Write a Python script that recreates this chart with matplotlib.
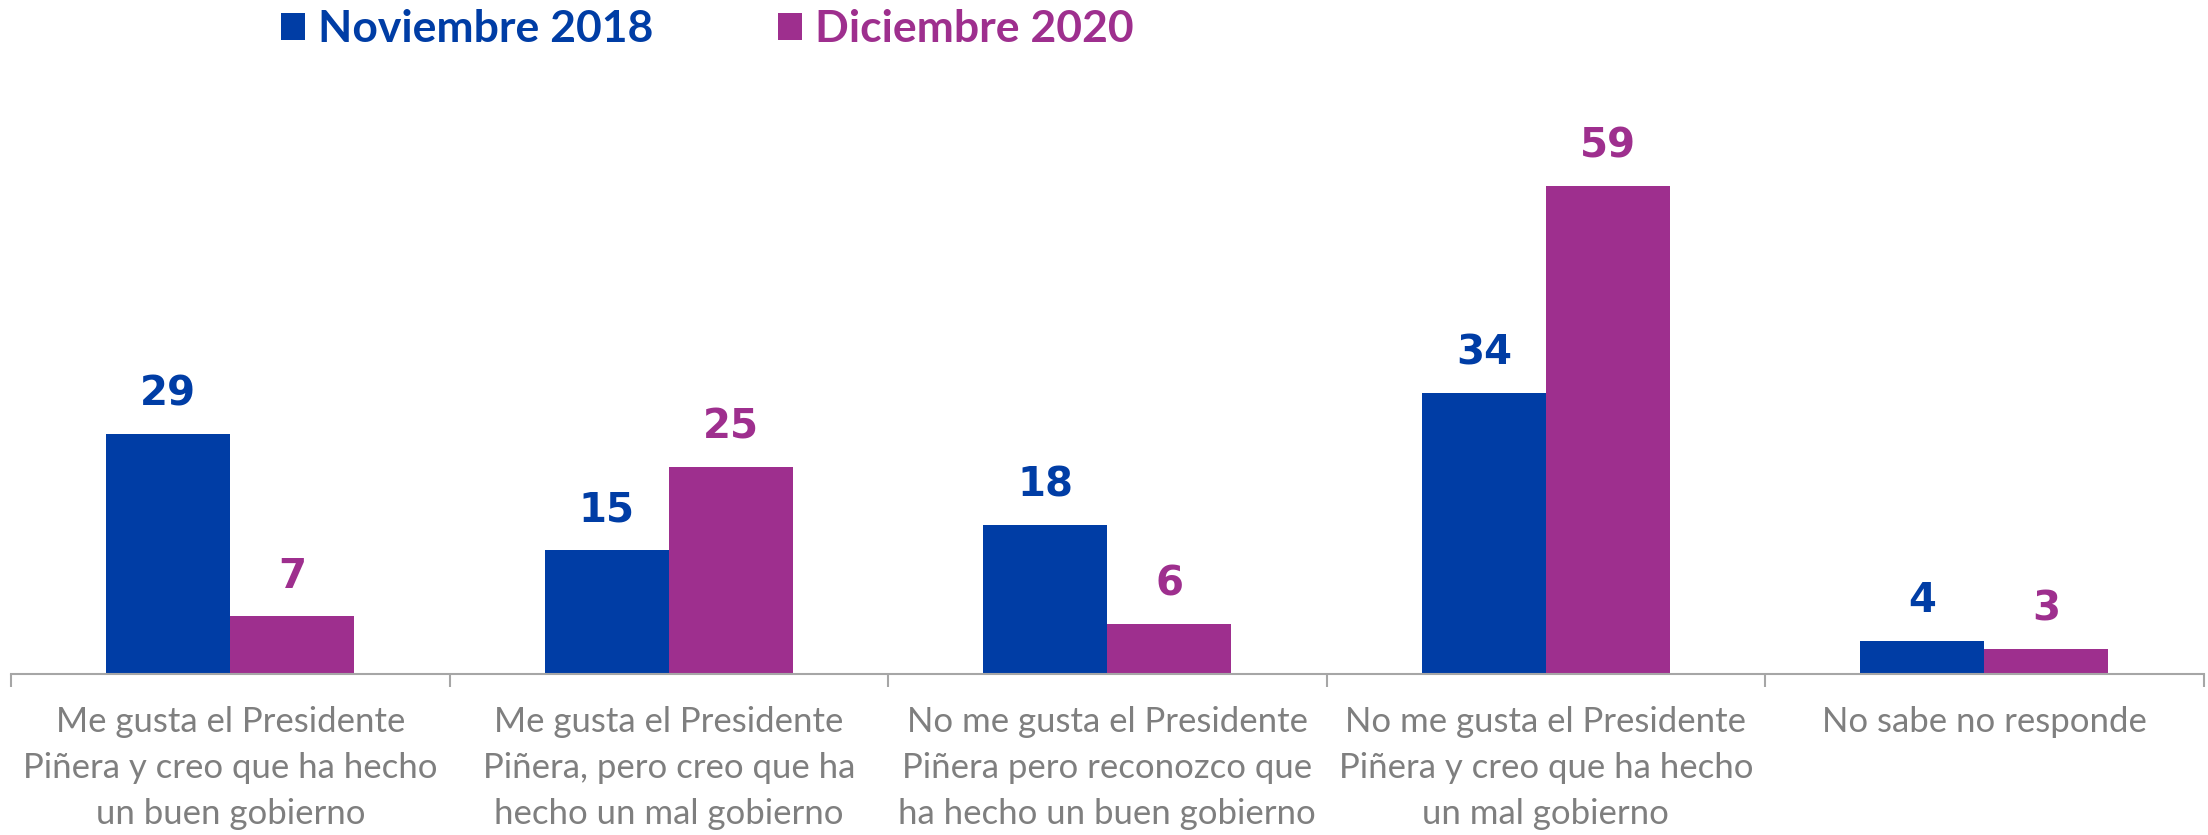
import matplotlib.pyplot as plt
import numpy as np
from matplotlib.ticker import FixedLocator


CATEGORIES = [
    "Me gusta el Presidente\nPiñera y creo que ha hecho\nun buen gobierno",
    "Me gusta el Presidente\nPiñera, pero creo que ha\nhecho un mal gobierno",
    "No me gusta el Presidente\nPiñera pero reconozco que\nha hecho un buen gobierno",
    "No me gusta el Presidente\nPiñera y creo que ha hecho\nun mal gobierno",
    "No sabe no responde",
]
SERIES_NAMES = ["Noviembre 2018", "Diciembre 2020"]
NOV_2018 = [29, 15, 18, 34, 4]
DIC_2020 = [7, 25, 6, 59, 3]

BLUE = "#003DA5"
PURPLE = "#9E2F8E"
GRAY_TEXT = "#7F7F7F"
AXIS_GRAY = "#A6A6A6"


def main():
    fig = plt.figure(figsize=(22.08, 8.35), dpi=100)
    ax = fig.add_axes([0.005, 0.193, 0.993, 0.70])

    x = np.arange(len(CATEGORIES))
    width = 0.283
    bars_a = ax.bar(x - width / 2, NOV_2018, width, color=BLUE, label=SERIES_NAMES[0])
    bars_b = ax.bar(x + width / 2, DIC_2020, width, color=PURPLE, label=SERIES_NAMES[1])

    for bars, values, color in ((bars_a, NOV_2018, BLUE), (bars_b, DIC_2020, PURPLE)):
        for rect, val in zip(bars, values):
            ax.annotate(
                f"{val}",
                (rect.get_x() + rect.get_width() / 2, rect.get_height()),
                xytext=(0, 14),
                textcoords="offset points",
                ha="center",
                va="bottom",
                fontsize=29,
                fontweight="bold",
                color=color,
                family="DejaVu Sans",
            )

    ax.set_xlim(-0.5, len(CATEGORIES) - 0.5)
    ax.set_ylim(0, 70.7)

    for side in ("top", "right", "left"):
        ax.spines[side].set_visible(False)
    ax.spines["bottom"].set_color(AXIS_GRAY)
    ax.spines["bottom"].set_linewidth(1.5)
    ax.set_yticks([])

    ax.set_xticks(x)
    ax.set_xticklabels(CATEGORIES, fontsize=25, color=GRAY_TEXT, family="Lato",
                       linespacing=1.55)
    ax.tick_params(axis="x", which="major", length=0, pad=23)
    ax.xaxis.set_minor_locator(FixedLocator(np.arange(len(CATEGORIES) + 1) - 0.5))
    ax.tick_params(axis="x", which="minor", length=9, width=1.5, color=AXIS_GRAY)

    leg = fig.legend(
        handles=[bars_a, bars_b],
        labels=SERIES_NAMES,
        loc="upper left",
        bbox_to_anchor=(0.109, 1.037),
        ncol=2,
        frameon=False,
        handlelength=0.54,
        handleheight=0.54,
        handletextpad=0.3,
        columnspacing=2.8,
        prop={"family": "Lato", "weight": "bold", "size": 32},
    )
    for text, color in zip(leg.get_texts(), (BLUE, PURPLE)):
        text.set_color(color)

    fig.savefig("out.png", dpi=100)


if __name__ == "__main__":
    main()
